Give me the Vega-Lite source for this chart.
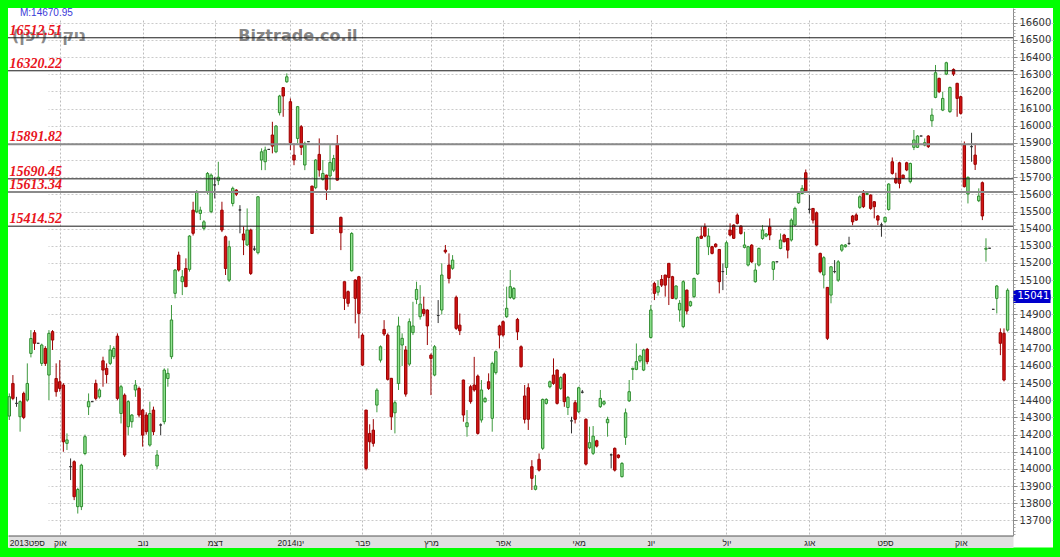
{
  "$schema": "https://vega.github.io/schema/vega-lite/v6.json",
  "width": 1045,
  "height": 539.5,
  "autosize": {"type": "none"},
  "padding": {"left": 8, "top": 8, "right": 7, "bottom": 9.5},
  "background": "#00ff00",
  "view": {"fill": "#ffffff", "stroke": null},
  "config": {"font": "DejaVu Sans"},
  "datasets": {
    "levels": [
      {"value": 16512.51, "type": "major"},
      {"value": 16320.22, "type": "major"},
      {"value": 15891.82, "type": "minor"},
      {"value": 15690.45, "type": "major"},
      {"value": 15613.34, "type": "minor"},
      {"value": 15414.52, "type": "major"}
    ],
    "candles": [
      {"i":0,"o":14308,"h":14440,"l":14285,"c":14421},
      {"i":1,"o":14498,"h":14547,"l":14400,"c":14411},
      {"i":2,"o":14382,"h":14420,"l":14362,"c":14382},
      {"i":3,"o":14304,"h":14400,"l":14217,"c":14392},
      {"i":4,"o":14440,"h":14450,"l":14290,"c":14300},
      {"i":5,"o":14401,"h":14615,"l":14392,"c":14498},
      {"i":6,"o":14673,"h":14809,"l":14650,"c":14760},
      {"i":7,"o":14794,"h":14809,"l":14693,"c":14732},
      {"i":8,"o":14732,"h":14732,"l":14732,"c":14732},
      {"i":9,"o":14615,"h":14730,"l":14600,"c":14722},
      {"i":10,"o":14702,"h":14715,"l":14600,"c":14615},
      {"i":11,"o":14547,"h":14809,"l":14401,"c":14790},
      {"i":12,"o":14800,"h":14809,"l":14693,"c":14751},
      {"i":13,"o":14527,"h":14615,"l":14421,"c":14450},
      {"i":14,"o":14508,"h":14634,"l":14450,"c":14469},
      {"i":15,"o":14489,"h":14500,"l":14100,"c":14158},
      {"i":16,"o":14149,"h":14207,"l":14110,"c":14169},
      {"i":17,"o":14013,"h":14061,"l":13935,"c":14013},
      {"i":18,"o":14042,"h":14050,"l":13818,"c":13838},
      {"i":19,"o":13780,"h":13890,"l":13740,"c":13880},
      {"i":20,"o":13780,"h":14030,"l":13760,"c":14022},
      {"i":21,"o":14090,"h":14200,"l":14080,"c":14188},
      {"i":22,"o":14362,"h":14440,"l":14314,"c":14392},
      {"i":23,"o":14392,"h":14392,"l":14392,"c":14392},
      {"i":24,"o":14498,"h":14520,"l":14400,"c":14411},
      {"i":25,"o":14420,"h":14470,"l":14410,"c":14460},
      {"i":26,"o":14630,"h":14654,"l":14479,"c":14576},
      {"i":27,"o":14586,"h":14615,"l":14498,"c":14550},
      {"i":28,"o":14615,"h":14722,"l":14605,"c":14693},
      {"i":29,"o":14654,"h":14715,"l":14640,"c":14702},
      {"i":30,"o":14774,"h":14790,"l":14400,"c":14411},
      {"i":31,"o":14323,"h":14490,"l":14265,"c":14479},
      {"i":32,"o":14430,"h":14440,"l":14070,"c":14081},
      {"i":33,"o":14246,"h":14400,"l":14197,"c":14392},
      {"i":34,"o":14275,"h":14320,"l":14240,"c":14314},
      {"i":35,"o":14460,"h":14518,"l":14420,"c":14489},
      {"i":36,"o":14469,"h":14480,"l":14300,"c":14314},
      {"i":37,"o":14343,"h":14350,"l":14130,"c":14197},
      {"i":38,"o":14314,"h":14330,"l":14200,"c":14217},
      {"i":39,"o":14139,"h":14392,"l":14130,"c":14323},
      {"i":40,"o":14343,"h":14363,"l":14197,"c":14217},
      {"i":41,"o":14017,"h":14110,"l":14000,"c":14081},
      {"i":42,"o":14256,"h":14265,"l":14197,"c":14256},
      {"i":43,"o":14275,"h":14586,"l":14260,"c":14576},
      {"i":44,"o":14527,"h":14586,"l":14479,"c":14557},
      {"i":45,"o":14654,"h":14955,"l":14640,"c":14868},
      {"i":46,"o":15023,"h":15165,"l":14994,"c":15159},
      {"i":47,"o":15246,"h":15266,"l":15150,"c":15159},
      {"i":48,"o":15091,"h":15159,"l":15013,"c":15120},
      {"i":49,"o":15168,"h":15227,"l":15060,"c":15062},
      {"i":50,"o":15163,"h":15362,"l":15150,"c":15357},
      {"i":51,"o":15508,"h":15557,"l":15360,"c":15373},
      {"i":52,"o":15498,"h":15625,"l":15490,"c":15615},
      {"i":53,"o":15489,"h":15528,"l":15450,"c":15508},
      {"i":54,"o":15402,"h":15450,"l":15390,"c":15440},
      {"i":55,"o":15615,"h":15730,"l":15600,"c":15722},
      {"i":56,"o":15499,"h":15722,"l":15490,"c":15712},
      {"i":57,"o":15655,"h":15702,"l":15576,"c":15655},
      {"i":58,"o":15680,"h":15790,"l":15654,"c":15700},
      {"i":59,"o":15508,"h":15557,"l":15380,"c":15392},
      {"i":60,"o":15353,"h":15360,"l":15130,"c":15168},
      {"i":61,"o":15100,"h":15330,"l":15090,"c":15295},
      {"i":62,"o":15547,"h":15645,"l":15530,"c":15635},
      {"i":63,"o":15625,"h":15630,"l":15590,"c":15601},
      {"i":64,"o":15509,"h":15537,"l":15373,"c":15509},
      {"i":65,"o":15369,"h":15412,"l":15246,"c":15334},
      {"i":66,"o":15305,"h":15518,"l":15300,"c":15392},
      {"i":67,"o":15392,"h":15400,"l":15130,"c":15139},
      {"i":68,"o":15281,"h":15300,"l":15270,"c":15281},
      {"i":69,"o":15260,"h":15590,"l":15250,"c":15586},
      {"i":70,"o":15800,"h":15868,"l":15741,"c":15848},
      {"i":71,"o":15790,"h":15878,"l":15741,"c":15858},
      {"i":72,"o":15862,"h":15862,"l":15862,"c":15862},
      {"i":73,"o":15946,"h":16023,"l":15839,"c":15881},
      {"i":74,"o":15848,"h":16004,"l":15840,"c":15998},
      {"i":75,"o":16076,"h":16180,"l":16060,"c":16173},
      {"i":76,"o":16222,"h":16225,"l":16052,"c":16173},
      {"i":77,"o":16256,"h":16305,"l":16250,"c":16285},
      {"i":78,"o":16140,"h":16159,"l":15858,"c":15901},
      {"i":79,"o":15829,"h":15897,"l":15770,"c":15800},
      {"i":80,"o":15926,"h":16115,"l":15897,"c":16111},
      {"i":81,"o":15994,"h":16004,"l":15829,"c":15874},
      {"i":82,"o":15771,"h":15907,"l":15741,"c":15897},
      {"i":83,"o":15907,"h":15907,"l":15907,"c":15907},
      {"i":84,"o":15648,"h":15650,"l":15372,"c":15372},
      {"i":85,"o":15639,"h":15805,"l":15630,"c":15800},
      {"i":86,"o":15833,"h":15926,"l":15703,"c":15742},
      {"i":87,"o":15687,"h":15800,"l":15680,"c":15722},
      {"i":88,"o":15712,"h":15715,"l":15567,"c":15629},
      {"i":89,"o":15707,"h":15887,"l":15625,"c":15786},
      {"i":90,"o":15741,"h":15830,"l":15730,"c":15809},
      {"i":91,"o":15893,"h":15946,"l":15680,"c":15683},
      {"i":92,"o":15466,"h":15470,"l":15275,"c":15376},
      {"i":93,"o":15091,"h":15091,"l":14926,"c":14994},
      {"i":94,"o":15033,"h":15040,"l":14945,"c":14965},
      {"i":95,"o":15155,"h":15380,"l":15150,"c":15372},
      {"i":96,"o":15101,"h":15105,"l":14848,"c":14994},
      {"i":97,"o":15120,"h":15125,"l":14761,"c":14906},
      {"i":98,"o":14780,"h":14790,"l":14600,"c":14605},
      {"i":99,"o":14343,"h":14343,"l":13992,"c":14003},
      {"i":100,"o":14207,"h":14260,"l":14100,"c":14158},
      {"i":101,"o":14226,"h":14290,"l":14130,"c":14149},
      {"i":102,"o":14372,"h":14470,"l":14330,"c":14459},
      {"i":103,"o":14634,"h":14720,"l":14620,"c":14712},
      {"i":104,"o":14813,"h":14867,"l":14775,"c":14786},
      {"i":105,"o":14780,"h":14790,"l":14515,"c":14522},
      {"i":106,"o":14528,"h":14530,"l":14227,"c":14304},
      {"i":107,"o":14327,"h":14400,"l":14207,"c":14386},
      {"i":108,"o":14498,"h":14887,"l":14460,"c":14833},
      {"i":109,"o":14722,"h":14790,"l":14600,"c":14761},
      {"i":110,"o":14693,"h":14716,"l":14421,"c":14436},
      {"i":111,"o":14611,"h":14877,"l":14600,"c":14858},
      {"i":112,"o":14794,"h":14974,"l":14780,"c":14833},
      {"i":113,"o":14988,"h":15091,"l":14960,"c":15046},
      {"i":114,"o":14887,"h":15071,"l":14870,"c":14961},
      {"i":115,"o":14930,"h":15004,"l":14890,"c":14906},
      {"i":116,"o":14926,"h":14930,"l":14722,"c":14833},
      {"i":117,"o":14663,"h":14673,"l":14430,"c":14644},
      {"i":118,"o":14547,"h":14722,"l":14540,"c":14712},
      {"i":119,"o":14894,"h":14984,"l":14850,"c":14894},
      {"i":120,"o":14926,"h":15198,"l":14900,"c":15130},
      {"i":121,"o":15275,"h":15305,"l":15255,"c":15265},
      {"i":122,"o":15188,"h":15256,"l":15081,"c":15110},
      {"i":123,"o":15169,"h":15246,"l":15160,"c":15217},
      {"i":124,"o":15000,"h":15010,"l":14810,"c":14819},
      {"i":125,"o":14838,"h":14906,"l":14780,"c":14805},
      {"i":126,"o":14518,"h":14520,"l":14275,"c":14314},
      {"i":127,"o":14246,"h":14343,"l":14188,"c":14269},
      {"i":128,"o":14479,"h":14490,"l":14380,"c":14392},
      {"i":129,"o":14489,"h":14653,"l":14450,"c":14460},
      {"i":130,"o":14541,"h":14550,"l":14200,"c":14207},
      {"i":131,"o":14285,"h":14518,"l":14270,"c":14460},
      {"i":132,"o":14392,"h":14420,"l":14385,"c":14411},
      {"i":133,"o":14508,"h":14557,"l":14460,"c":14469},
      {"i":134,"o":14295,"h":14625,"l":14217,"c":14615},
      {"i":135,"o":14561,"h":14690,"l":14550,"c":14683},
      {"i":136,"o":14833,"h":14840,"l":14702,"c":14780},
      {"i":137,"o":14858,"h":14865,"l":14770,"c":14780},
      {"i":138,"o":14887,"h":15062,"l":14880,"c":14936},
      {"i":139,"o":14999,"h":15159,"l":14990,"c":15062},
      {"i":140,"o":14994,"h":15060,"l":14985,"c":15052},
      {"i":141,"o":14871,"h":14880,"l":14751,"c":14799},
      {"i":142,"o":14712,"h":14720,"l":14590,"c":14596},
      {"i":143,"o":14425,"h":14489,"l":14265,"c":14289},
      {"i":144,"o":14473,"h":14498,"l":14227,"c":14289},
      {"i":145,"o":14013,"h":14051,"l":13877,"c":13945},
      {"i":146,"o":13881,"h":13964,"l":13875,"c":13901},
      {"i":147,"o":14056,"h":14090,"l":13985,"c":13993},
      {"i":148,"o":14120,"h":14410,"l":14110,"c":14405},
      {"i":149,"o":14382,"h":14412,"l":14375,"c":14405},
      {"i":150,"o":14479,"h":14515,"l":14470,"c":14508},
      {"i":151,"o":14547,"h":14644,"l":14490,"c":14498},
      {"i":152,"o":14576,"h":14580,"l":14375,"c":14382},
      {"i":153,"o":14469,"h":14540,"l":14460,"c":14533},
      {"i":154,"o":14552,"h":14560,"l":14362,"c":14392},
      {"i":155,"o":14358,"h":14425,"l":14314,"c":14417},
      {"i":156,"o":14280,"h":14304,"l":14207,"c":14280},
      {"i":157,"o":14386,"h":14401,"l":14265,"c":14289},
      {"i":158,"o":14333,"h":14479,"l":14325,"c":14473},
      {"i":159,"o":14447,"h":14460,"l":14440,"c":14447},
      {"i":160,"o":14289,"h":14295,"l":14020,"c":14028},
      {"i":161,"o":14123,"h":14246,"l":14115,"c":14153},
      {"i":162,"o":14091,"h":14250,"l":14081,"c":14191},
      {"i":163,"o":14164,"h":14170,"l":14125,"c":14133},
      {"i":164,"o":14363,"h":14460,"l":14355,"c":14411},
      {"i":165,"o":14378,"h":14400,"l":14370,"c":14392},
      {"i":166,"o":14269,"h":14304,"l":14188,"c":14289},
      {"i":167,"o":14082,"h":14090,"l":14003,"c":14082},
      {"i":168,"o":14120,"h":14125,"l":13985,"c":13993},
      {"i":169,"o":14081,"h":14085,"l":14060,"c":14067},
      {"i":170,"o":13955,"h":14040,"l":13950,"c":14032},
      {"i":171,"o":14184,"h":14352,"l":14140,"c":14327},
      {"i":172,"o":14397,"h":14518,"l":14390,"c":14450},
      {"i":173,"o":14580,"h":14590,"l":14518,"c":14586},
      {"i":174,"o":14580,"h":14731,"l":14575,"c":14625},
      {"i":175,"o":14630,"h":14665,"l":14620,"c":14658},
      {"i":176,"o":14576,"h":14700,"l":14570,"c":14693},
      {"i":177,"o":14697,"h":14705,"l":14610,"c":14625},
      {"i":178,"o":14766,"h":14955,"l":14760,"c":14926},
      {"i":179,"o":15081,"h":15091,"l":14984,"c":15023},
      {"i":180,"o":15030,"h":15100,"l":15010,"c":15062},
      {"i":181,"o":15104,"h":15130,"l":15060,"c":15071},
      {"i":182,"o":15130,"h":15130,"l":15004,"c":15071},
      {"i":183,"o":15198,"h":15198,"l":14955,"c":15116},
      {"i":184,"o":15120,"h":15125,"l":14990,"c":14994},
      {"i":185,"o":14994,"h":15070,"l":14985,"c":15066},
      {"i":186,"o":14926,"h":14984,"l":14858,"c":14965},
      {"i":187,"o":14829,"h":15100,"l":14820,"c":15091},
      {"i":188,"o":15042,"h":15045,"l":14900,"c":14920},
      {"i":189,"o":14951,"h":14980,"l":14945,"c":14974},
      {"i":190,"o":15004,"h":15115,"l":14995,"c":15110},
      {"i":191,"o":15136,"h":15355,"l":15130,"c":15349},
      {"i":192,"o":15357,"h":15412,"l":15340,"c":15344},
      {"i":193,"o":15411,"h":15431,"l":15350,"c":15357},
      {"i":194,"o":15295,"h":15402,"l":15246,"c":15357},
      {"i":195,"o":15295,"h":15300,"l":15250,"c":15256},
      {"i":196,"o":15310,"h":15315,"l":15290,"c":15295},
      {"i":197,"o":15279,"h":15279,"l":15023,"c":15091},
      {"i":198,"o":15150,"h":15198,"l":15042,"c":15150},
      {"i":199,"o":15174,"h":15330,"l":15130,"c":15318},
      {"i":200,"o":15392,"h":15431,"l":15355,"c":15363},
      {"i":201,"o":15421,"h":15425,"l":15340,"c":15344},
      {"i":202,"o":15479,"h":15489,"l":15425,"c":15431},
      {"i":203,"o":15415,"h":15420,"l":15365,"c":15372},
      {"i":204,"o":15291,"h":15382,"l":15285,"c":15305},
      {"i":205,"o":15188,"h":15300,"l":15180,"c":15295},
      {"i":206,"o":15304,"h":15310,"l":15200,"c":15207},
      {"i":207,"o":15091,"h":15198,"l":15085,"c":15159},
      {"i":208,"o":15188,"h":15290,"l":15180,"c":15285},
      {"i":209,"o":15343,"h":15421,"l":15335,"c":15392},
      {"i":210,"o":15357,"h":15375,"l":15350,"c":15369},
      {"i":211,"o":15411,"h":15460,"l":15333,"c":15363},
      {"i":212,"o":15163,"h":15210,"l":15100,"c":15207},
      {"i":213,"o":15207,"h":15207,"l":15207,"c":15207},
      {"i":214,"o":15285,"h":15372,"l":15280,"c":15334},
      {"i":215,"o":15363,"h":15370,"l":15320,"c":15324},
      {"i":216,"o":15343,"h":15345,"l":15227,"c":15275},
      {"i":217,"o":15334,"h":15460,"l":15325,"c":15450},
      {"i":218,"o":15421,"h":15528,"l":15415,"c":15518},
      {"i":219,"o":15551,"h":15615,"l":15545,"c":15605},
      {"i":220,"o":15605,"h":15654,"l":15600,"c":15635},
      {"i":221,"o":15726,"h":15745,"l":15610,"c":15615},
      {"i":222,"o":15513,"h":15596,"l":15489,"c":15513},
      {"i":223,"o":15518,"h":15520,"l":15430,"c":15450},
      {"i":224,"o":15493,"h":15500,"l":15300,"c":15305},
      {"i":225,"o":15256,"h":15260,"l":15140,"c":15149},
      {"i":226,"o":15130,"h":15240,"l":15052,"c":15231},
      {"i":227,"o":15058,"h":15060,"l":14751,"c":14761},
      {"i":228,"o":15013,"h":15180,"l":14965,"c":15178},
      {"i":229,"o":15150,"h":15217,"l":15140,"c":15150},
      {"i":230,"o":15100,"h":15217,"l":15090,"c":15207},
      {"i":231,"o":15275,"h":15310,"l":15265,"c":15304},
      {"i":232,"o":15295,"h":15310,"l":15290,"c":15305},
      {"i":233,"o":15314,"h":15353,"l":15305,"c":15314},
      {"i":234,"o":15474,"h":15480,"l":15420,"c":15440},
      {"i":235,"o":15480,"h":15490,"l":15445,"c":15450},
      {"i":236,"o":15524,"h":15595,"l":15515,"c":15586},
      {"i":237,"o":15605,"h":15625,"l":15520,"c":15528},
      {"i":238,"o":15600,"h":15615,"l":15595,"c":15605},
      {"i":239,"o":15596,"h":15600,"l":15510,"c":15518},
      {"i":240,"o":15557,"h":15560,"l":15460,"c":15528},
      {"i":241,"o":15474,"h":15480,"l":15421,"c":15450},
      {"i":242,"o":15422,"h":15435,"l":15353,"c":15422},
      {"i":243,"o":15441,"h":15470,"l":15431,"c":15466},
      {"i":244,"o":15512,"h":15665,"l":15505,"c":15660},
      {"i":245,"o":15790,"h":15815,"l":15715,"c":15722},
      {"i":246,"o":15693,"h":15726,"l":15660,"c":15668},
      {"i":247,"o":15784,"h":15790,"l":15635,"c":15664},
      {"i":248,"o":15712,"h":15715,"l":15690,"c":15693},
      {"i":249,"o":15784,"h":15790,"l":15735,"c":15742},
      {"i":250,"o":15674,"h":15785,"l":15664,"c":15780},
      {"i":251,"o":15874,"h":15975,"l":15858,"c":15917},
      {"i":252,"o":15874,"h":15945,"l":15870,"c":15940},
      {"i":253,"o":15940,"h":15940,"l":15940,"c":15940},
      {"i":254,"o":15887,"h":15926,"l":15880,"c":15901},
      {"i":255,"o":15940,"h":15945,"l":15870,"c":15878},
      {"i":256,"o":16029,"h":16101,"l":15994,"c":16062},
      {"i":257,"o":16165,"h":16354,"l":16160,"c":16309},
      {"i":258,"o":16276,"h":16280,"l":16190,"c":16198},
      {"i":259,"o":16091,"h":16198,"l":16085,"c":16159},
      {"i":260,"o":16301,"h":16373,"l":16295,"c":16367},
      {"i":261,"o":16082,"h":16228,"l":16075,"c":16223},
      {"i":262,"o":16328,"h":16334,"l":16290,"c":16301},
      {"i":263,"o":16247,"h":16250,"l":16052,"c":16159},
      {"i":264,"o":16169,"h":16175,"l":16065,"c":16072},
      {"i":265,"o":15887,"h":15908,"l":15640,"c":15645},
      {"i":266,"o":15602,"h":15705,"l":15547,"c":15699},
      {"i":267,"o":15878,"h":15959,"l":15790,"c":15878},
      {"i":268,"o":15829,"h":15897,"l":15742,"c":15775},
      {"i":269,"o":15563,"h":15635,"l":15555,"c":15590},
      {"i":270,"o":15668,"h":15675,"l":15450,"c":15474},
      {"i":271,"o":15280,"h":15344,"l":15208,"c":15286},
      {"i":272,"o":15286,"h":15286,"l":15286,"c":15286},
      {"i":273,"o":14930,"h":14930,"l":14930,"c":14930},
      {"i":274,"o":14994,"h":15072,"l":14906,"c":15066},
      {"i":275,"o":14794,"h":14819,"l":14663,"c":14732},
      {"i":276,"o":14790,"h":14819,"l":14510,"c":14518},
      {"i":277,"o":14809,"h":15052,"l":14800,"c":15041}
    ]
  },
  "resolve": {"axis": {"x": "independent", "y": "independent"}},
  "layer": [
    {
      "data": {"values": [{}]},
      "mark": {"type": "text", "font": "DejaVu Sans", "fontWeight": "bold", "fontSize": 16, "color": "#858585", "align": "center", "baseline": "middle"},
      "encoding": {
        "x": {"datum": 80.1, "type": "quantitative", "scale": {"domain": [-0.36, 278.5], "range": [0, 1005], "nice": false, "zero": false, "padding": 0}, "axis": null},
        "y": {"datum": 16523, "type": "quantitative", "scale": {"domain": [13612, 16686], "range": [527.5, 0], "nice": false, "zero": false, "padding": 0}, "axis": null},
        "text": {"value": "Biztrade.co.il"}
      }
    },
    {
      "data": {"values": [{}]},
      "mark": {"type": "text", "font": "DejaVu Sans", "fontWeight": "bold", "fontSize": 16, "color": "#8a8a8a", "align": "right", "baseline": "middle"},
      "encoding": {
        "x": {"datum": 21.28, "type": "quantitative", "scale": {"domain": [-0.36, 278.5], "range": [0, 1005], "nice": false, "zero": false, "padding": 0}, "axis": null},
        "y": {"datum": 16523, "type": "quantitative", "scale": {"domain": [13612, 16686], "range": [527.5, 0], "nice": false, "zero": false, "padding": 0}, "axis": null},
        "text": {"value": "ניקיי (יפן)‏"}
      }
    },
    {
      "data": {"name": "candles"},
      "mark": {"type": "rule", "strokeWidth": 1},
      "encoding": {
        "x": {"field": "i", "type": "quantitative", "scale": {"domain": [-0.36, 278.5], "range": [0, 1005], "nice": false, "zero": false, "padding": 0},
          "axis": {"orient": "bottom", "offset": -6, "title": null, "values": [0], "domain": true, "domainColor": "#e0e0e0", "domainWidth": 12, "ticks": false, "labels": false, "grid": false}},
        "y": {"field": "l", "type": "quantitative", "scale": {"domain": [13612, 16686], "range": [527.5, 0], "nice": false, "zero": false, "padding": 0},
          "axis": {"orient": "right", "offset": -40, "title": null, "format": "d",
            "values": [13700,13800,13900,14000,14100,14200,14300,14400,14500,14600,14700,14800,14900,15000,15100,15200,15300,15400,15500,15600,15700,15800,15900,16000,16100,16200,16300,16400,16500,16600],
            "grid": true, "gridColor": "#cacaca", "gridDash": [2, 2], "gridWidth": 1,
            "domain": true, "domainColor": "#8c8c8c", "domainWidth": 1,
            "ticks": true, "tickSize": 4, "tickColor": "#8c8c8c", "tickWidth": 1,
            "labelFont": "DejaVu Sans", "labelFontSize": 10, "labelColor": "#333333", "labelPadding": 2,
            "labelOverlap": false, "labelBound": false, "labelFlush": false}},
        "y2": {"field": "h"},
        "color": {"condition": [{"test": "datum.c > datum.o", "value": "#3f9a3f"}, {"test": "datum.c < datum.o", "value": "#990000"}], "value": "#333333"}
      }
    },
    {
      "data": {"name": "candles"},
      "mark": {"type": "bar", "width": 2.4, "strokeWidth": 1},
      "encoding": {
        "x": {"field": "i", "type": "quantitative", "scale": {"domain": [-0.36, 278.5], "range": [0, 1005], "nice": false, "zero": false, "padding": 0},
          "axis": {"orient": "bottom", "offset": -12, "title": null,
            "values": [0,14,37,57,78,98,117,137,158,178,199,222,243,264],
            "labelExpr": "['2013ספט','אוק','נוב','דצמ','2014ינו','פבר','מרץ','אפר','מאי','יונ','יול','אוג','ספט','אוק'][indexof([0,14,37,57,78,98,117,137,158,178,199,222,243,264], datum.value)]",
            "grid": true, "gridColor": "#bcbcbc", "gridDash": [2, 2], "gridWidth": 1,
            "gridOpacity": {"condition": {"test": "datum.value == 0", "value": 0}, "value": 1},
            "domain": true, "domainColor": "#555555", "domainWidth": 1, "ticks": false,
            "labelFont": "Liberation Sans", "labelFontSize": 8.5, "labelColor": "#222222", "labelBaseline": "top", "labelPadding": 2.5,
            "labelAlign": {"condition": {"test": "datum.value == 0", "value": "left"}, "value": "center"},
            "labelOverlap": false, "labelBound": false, "labelFlush": false}},
        "y": {"field": "o", "type": "quantitative", "scale": {"domain": [13612, 16686], "range": [527.5, 0], "nice": false, "zero": false, "padding": 0},
          "axis": {"orient": "right", "offset": -40, "title": null, "format": "d", "values": [15041],
            "grid": false, "domain": false, "ticks": true, "tickSize": 37, "tickWidth": 13, "tickColor": "#0000cc", "tickOffset": 5.5,
            "labelColor": "#ffffff", "labelFont": "DejaVu Sans", "labelFontSize": 10, "labelPadding": -33,
            "labelOverlap": false, "labelBound": false, "labelFlush": false}},
        "y2": {"field": "c"},
        "fill": {"condition": [{"test": "datum.c > datum.o", "value": "#92e592"}, {"test": "datum.c < datum.o", "value": "#d41414"}], "value": "#333333"},
        "stroke": {"condition": [{"test": "datum.c > datum.o", "value": "#2e8b2e"}, {"test": "datum.c < datum.o", "value": "#9a0000"}], "value": "#333333"}
      }
    },
    {
      "data": {"name": "levels"},
      "mark": {"type": "rule"},
      "encoding": {
        "x": {"datum": -0.36, "type": "quantitative", "scale": {"domain": [-0.36, 278.5], "range": [0, 1005], "nice": false, "zero": false, "padding": 0}, "axis": null},
        "x2": {"datum": 278.5},
        "y": {"field": "value", "type": "quantitative", "scale": {"domain": [13612, 16686], "range": [527.5, 0], "nice": false, "zero": false, "padding": 0},
          "axis": {"orient": "right", "offset": -40, "title": null, "grid": false, "domain": false, "labels": false,
            "ticks": true, "tickSize": 2, "tickColor": "#a8a8a8", "tickWidth": 1,
            "values": [13620,13640,13660,13680,13720,13740,13760,13780,13820,13840,13860,13880,13920,13940,13960,13980,14020,14040,14060,14080,14120,14140,14160,14180,14220,14240,14260,14280,14320,14340,14360,14380,14420,14440,14460,14480,14520,14540,14560,14580,14620,14640,14660,14680,14720,14740,14760,14780,14820,14840,14860,14880,14920,14940,14960,14980,15020,15040,15060,15080,15120,15140,15160,15180,15220,15240,15260,15280,15320,15340,15360,15380,15420,15440,15460,15480,15520,15540,15560,15580,15620,15640,15660,15680,15720,15740,15760,15780,15820,15840,15860,15880,15920,15940,15960,15980,16020,16040,16060,16080,16120,16140,16160,16180,16220,16240,16260,16280,16320,16340,16360,16380,16420,16440,16460,16480,16520,16540,16560,16580,16620,16640,16660,16680]}},
        "color": {"condition": {"test": "datum.type == 'minor'", "value": "#8a8a8a"}, "value": "#1a1a1a"},
        "strokeWidth": {"condition": {"test": "datum.type == 'minor'", "value": 2}, "value": 1}
      }
    },
    {
      "data": {"name": "levels"},
      "mark": {"type": "text", "font": "Liberation Serif", "fontStyle": "italic", "fontWeight": "bold", "fontSize": 14, "color": "#e8141c", "align": "left", "baseline": "alphabetic", "dy": -3},
      "encoding": {
        "x": {"datum": 0.05, "type": "quantitative", "scale": {"domain": [-0.36, 278.5], "range": [0, 1005], "nice": false, "zero": false, "padding": 0}, "axis": null},
        "y": {"field": "value", "type": "quantitative", "scale": {"domain": [13612, 16686], "range": [527.5, 0], "nice": false, "zero": false, "padding": 0}, "axis": null},
        "text": {"field": "value", "format": ".2f"}
      }
    },
    {
      "data": {"values": [{}]},
      "mark": {"type": "text", "font": "Liberation Sans", "fontSize": 10, "color": "#3a3ad8", "align": "left", "baseline": "middle"},
      "encoding": {
        "x": {"datum": 2.97, "type": "quantitative", "scale": {"domain": [-0.36, 278.5], "range": [0, 1005], "nice": false, "zero": false, "padding": 0}, "axis": null},
        "y": {"datum": 16657, "type": "quantitative", "scale": {"domain": [13612, 16686], "range": [527.5, 0], "nice": false, "zero": false, "padding": 0}, "axis": null},
        "text": {"value": "M:14670.95"}
      }
    }
  ]
}
